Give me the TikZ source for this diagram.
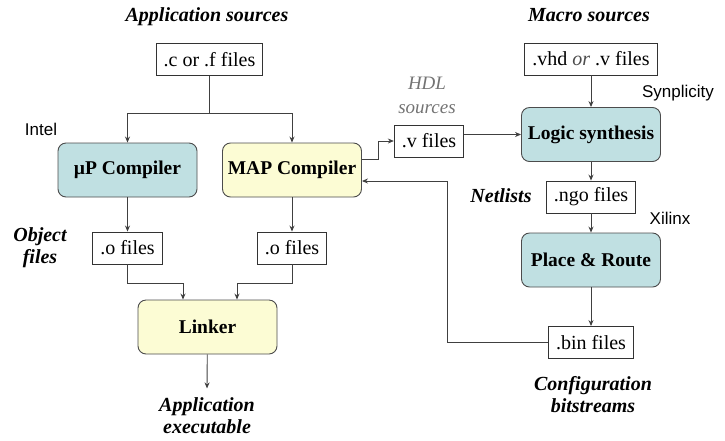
\documentclass[tikz,border=0pt]{standalone}
\usepackage{fontspec}
\setmainfont{Liberation Serif}
\newfontfamily\toolfont{Liberation Sans}
\usetikzlibrary{positioning,calc,arrows.meta}
\tikzset{>={Stealth[length=6pt,width=5pt]}}
\definecolor{procblue}{RGB}{192,224,226}
\definecolor{procyellow}{RGB}{252,252,212}
\tikzset{
  proc/.style={draw=black!70,line width=0.9pt,rounded corners=8pt,minimum width=139pt,minimum height=54pt,inner sep=0pt,font=\fontsize{19.5}{22}\selectfont\bfseries},
  filebox/.style={draw=black!80,line width=0.9pt,fill=white,minimum height=32pt,inner xsep=7.5pt,inner ysep=0pt,font=\fontsize{20}{22}\selectfont},
  caption/.style={align=center,font=\fontsize{20}{22}\selectfont\bfseries\itshape},
  toolname/.style={font=\toolfont\fontsize{17}{19}\selectfont},
  hdl/.style={align=center,text=black!55,font=\fontsize{19}{24}\selectfont\itshape},
  conn/.style={draw=black!75,line width=0.9pt}
}

\begin{document}
\begin{tikzpicture}[x=1pt,y=-1pt]
\useasboundingbox (0,0) rectangle (725,440);
\node[caption] (appsrc) at (207,17) {Application sources};
\node[filebox] (cfiles) at (209.5,59.5) {.c or .f files};
\node[toolname] (intel) at (41,129) {Intel};
\node[proc,fill=procblue] (up) at (127.5,170) {µP Compiler};
\node[proc,fill=procyellow] (map) at (292,170) {MAP Compiler};
\node[filebox] (o1) at (127.5,248) {.o files};
\node[filebox] (o2) at (292,248) {.o files};
\node[caption] (objfiles) at (40,248) {Object\\files};
\node[proc,fill=procyellow] (linker) at (207.5,327) {Linker};
\node[caption] (appexe) at (207,416) {Application\\executable};
\node[caption] (macrosrc) at (589,15) {Macro sources};
\node[filebox] (vhd) at (591,59) {.vhd \textcolor{black!70}{\textit{or}} .v files};
\node[toolname] (synplicity) at (678,93) {Synplicity};
\node[proc,fill=procblue] (logic) at (591,134.5) {Logic synthesis};
\node[hdl] (hdlsrc) at (427,95) {HDL\\sources};
\node[filebox] (vfiles) at (429,141) {.v files};
\node[filebox] (ngo) at (591,197) {.ngo files};
\node[caption] (netlists) at (501,196) {Netlists};
\node[toolname] (xilinx) at (670,218) {Xilinx};
\node[proc,fill=procblue] (pr) at (591,260) {Place \& Route};
\node[filebox] (bin) at (591,342.5) {.bin files};
\node[caption] (config) at (593,395) {Configuration\\bitstreams};
\coordinate (split) at (209.5,113);
\coordinate (j1) at (183,283);
\coordinate (j2) at (237,283);
\coordinate (mapout) at (362,159);
\coordinate (bend) at (378,159);
\coordinate (fb) at (447,181);
\draw[conn] (cfiles) -- (split);
\draw[conn,->] (split) -| (up.north);
\draw[conn,->] (split) -| (map.north);
\draw[conn,->] (up) -- (o1);
\draw[conn,->] (map) -- (o2);
\draw[conn,->] (o1.south) |- (j1) -- (j1 |- linker.north);
\draw[conn,->] (o2.south) |- (j2) -- (j2 |- linker.north);
\draw[conn,->] (linker) -- ($(appexe.north)+(0,-6)$);
\draw[conn,->] (mapout) -- (bend) |- (vfiles.west);
\draw[conn,->] (vfiles.east |- logic.west) -- (logic.west);
\draw[conn,->] (vhd) -- (logic);
\draw[conn,->] (logic) -- (ngo);
\draw[conn,->] (ngo) -- (pr);
\draw[conn,->] (pr) -- (bin);
\draw[conn,->] (bin.west) -| (fb) -- (fb -| map.east);
\end{tikzpicture}
\end{document}
